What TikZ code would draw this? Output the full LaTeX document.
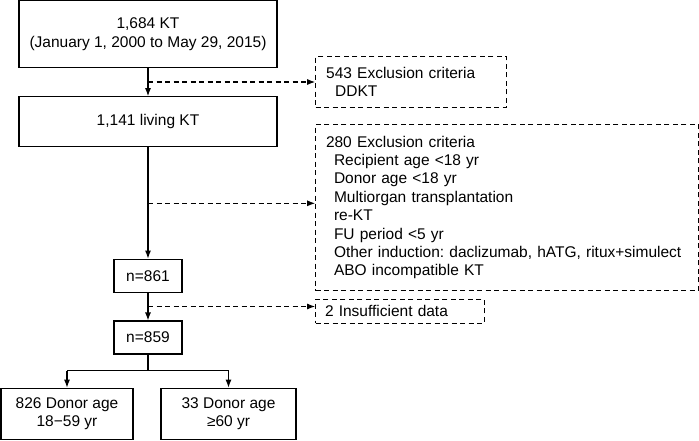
\documentclass[tikz,border=0pt]{standalone}
\usepackage{fontspec}
\setmainfont{Liberation Sans}
\usetikzlibrary{arrows.meta}
\frenchspacing
\begin{document}
\begin{tikzpicture}[x=1pt,y=-1pt,
  every node/.style={font=\fontsize{15.5}{18.4}\selectfont, inner sep=0pt},
  solidbox/.style={draw, line width=1.1pt, align=center},
  dbox/.style={draw, line width=1.1pt, dash pattern=on 5pt off 3.5pt, align=left},
  arr/.style={line width=1.1pt, -{Latex[length=8pt,width=6pt]}},
  darr/.style={arr, dash pattern=on 5pt off 3.5pt}]
\useasboundingbox (0,0) rectangle (699,440);
\node[solidbox, minimum width=258pt, minimum height=67pt] (b1) at (148,34.2) {1,684 KT\\(January 1, 2000 to May 29, 2015)};
\node[solidbox, minimum width=258pt, minimum height=50pt] (b2) at (148,121.7) {1,141 living KT};
\node[solidbox, minimum width=68pt, minimum height=33.7pt] (b3) at (148,276) {n=861};
\node[solidbox, minimum width=68pt, minimum height=33pt] (b4) at (148,337.5) {n=859};
\node[solidbox, minimum width=132pt, minimum height=51pt] (b5) at (67,413.7) {826 Donor age\\18−59 yr};
\node[solidbox, minimum width=135pt, minimum height=51pt] (b6) at (228.5,413.7) {33 Donor age\\≥60 yr};
\node[dbox, minimum width=191pt, minimum height=50.6pt, text width=170pt] (e1) at (411.2,82) {543 Exclusion criteria\\\hspace*{9pt}DDKT};
\node[dbox, minimum width=382.6pt, minimum height=166.4pt, text width=362pt] (e2) at (507,207.5) {280 Exclusion criteria\\\hspace*{8pt}Recipient age <18 yr\\\hspace*{8pt}Donor age <18 yr\\\hspace*{8pt}Multiorgan transplantation\\\hspace*{8pt}re-KT\\\hspace*{8pt}FU period <5 yr\\\hspace*{8pt}Other induction: daclizumab, hATG, ritux+simulect\\\hspace*{8pt}ABO incompatible KT};
\node[dbox, minimum width=168.6pt, minimum height=24pt, text width=150pt] (e3) at (400,311.3) {2 Insufficient data};
\coordinate (j1) at (148,82);
\coordinate (j2) at (148,203.3);
\coordinate (j3) at (148,306.5);
\coordinate (s) at (148,370.7);
\draw[arr] (b1.south) -- (b2.north);
\draw[arr] (b2.south) -- (b3.north);
\draw[arr] (b3.south) -- (b4.north);
\draw[darr] (j1) -- (j1 -| e1.west);
\draw[darr] (j2) -- (j2 -| e2.west);
\draw[darr] (j3) -- (j3 -| e3.west);
\draw[line width=1.1pt] (b4.south) -- (s);
\draw[arr] (s -| b5.north) -- (b5.north);
\draw[arr] (s -| b6.north) -- (b6.north);
\draw[line width=1.1pt] (s -| b5.north) -- (s -| b6.north);
\end{tikzpicture}
\end{document}
